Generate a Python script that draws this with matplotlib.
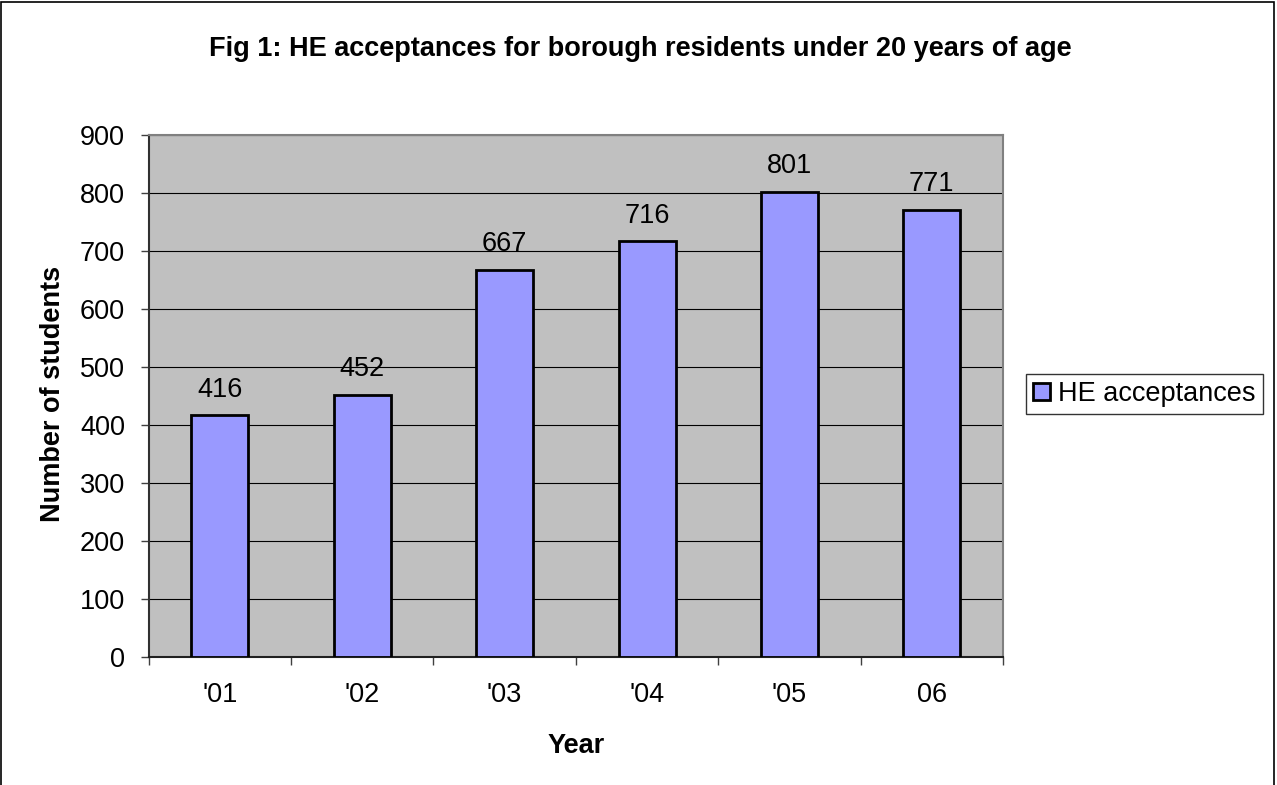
import matplotlib.pyplot as plt
from matplotlib.patches import Rectangle
import numpy as np

plt.rcParams['font.family'] = ['Liberation Sans', 'DejaVu Sans']

years = ["'01", "'02", "'03", "'04", "'05", "06"]
acceptances = [416, 452, 667, 716, 801, 771]
series_name = 'HE acceptances'

W, H = 1277, 785
fig = plt.figure(figsize=(W / 100, H / 100), dpi=100)
# plot area in pixels: x 148.7..1003, y 134.7..656.7
ax = fig.add_axes([148.7 / W, 1 - 656.7 / H, (1003 - 148.7) / W, (656.7 - 134.7) / H])
ax.set_facecolor('#C0C0C0')

fs = 19.5
x = np.arange(len(years))
bars = ax.bar(x, acceptances, width=0.4, color='#9999FF', edgecolor='black',
              linewidth=2, label=series_name, zorder=3)
for xi, v in zip(x, acceptances):
    ax.annotate(str(v), (xi, v), xytext=(0, 13.5), textcoords='offset points',
                ha='center', va='baseline', fontsize=fs)

ax.set_xlim(-0.5, len(years) - 0.5)
ax.set_ylim(0, 900)
ax.set_yticks(range(0, 901, 100))
ax.yaxis.grid(True, color='black', linewidth=0.8, zorder=0)
ax.set_axisbelow(True)

# category labels centred, ticks at the boundaries
ax.set_xticks(np.arange(-0.5, len(years), 1.0))
ax.set_xticklabels([''] * (len(years) + 1))
ax.set_xticks(x, minor=True)
ax.set_xticklabels(years, minor=True, fontsize=fs)
ax.tick_params(axis='x', which='minor', length=0, pad=18)
ax.tick_params(axis='x', which='major', length=6, color='#404040', width=1)
ax.tick_params(axis='y', length=6, color='#404040', width=1, labelsize=fs, pad=11)

ax.spines['left'].set_color('#303030')
ax.spines['bottom'].set_color('#202020')
ax.spines['top'].set_color('#808080')
ax.spines['right'].set_color('#808080')
for s in ax.spines.values():
    s.set_linewidth(1.5)

fig.text(576 / W, 1 - 753 / H, 'Year', ha='center', va='baseline',
         fontsize=fs, fontweight='bold')
fig.text(52.6 / W, 1 - 393.5 / H, 'Number of students', ha='center', va='center',
         rotation=90, fontsize=fs, fontweight='bold')
fig.text(640 / W, 1 - 56 / H, 'Fig 1: HE acceptances for borough residents under 20 years of age',
         ha='center', va='baseline', fontsize=fs, fontweight='bold')

leg = fig.legend(handles=[bars], labels=[series_name], loc='upper left',
                 bbox_to_anchor=(1026 / W, 1 - 374 / H), borderaxespad=0,
                 fontsize=fs, frameon=True, fancybox=False, edgecolor='black',
                 handlelength=0.63, handleheight=0.63, handletextpad=0.3,
                 borderpad=0.26)
leg.get_frame().set_linewidth(1)

fig.patches.append(Rectangle((0.001, -0.01), 0.997, 1.008, transform=fig.transFigure,
                             fill=False, edgecolor='black', linewidth=1.2))

fig.savefig('out.png', dpi=100)
